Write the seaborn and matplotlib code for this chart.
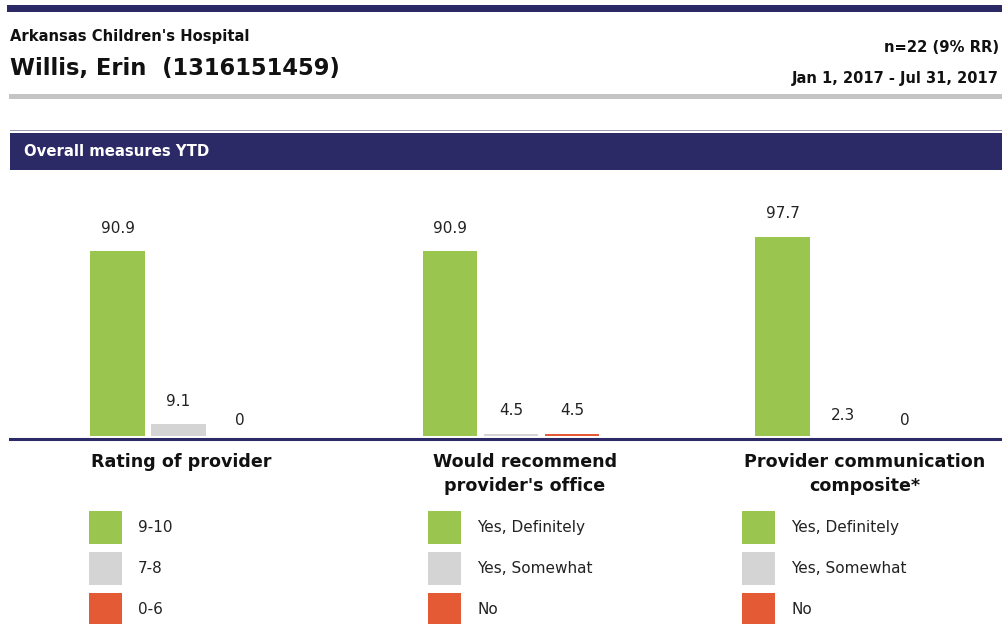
"""
Overall measures YTD - provider survey summary (grouped bars with per-measure legends).
"""

import pandas as pd
import matplotlib.pyplot as plt
import seaborn as sns
from matplotlib.patches import Rectangle, Patch

# ---- data -----------------------------------------------------------------
measures = ["Rating of provider",
            "Would recommend\nprovider's office",
            "Provider communication\ncomposite*"]
levels = ["top", "middle", "bottom"]
top_box = [90.9, 90.9, 97.7]
middle_box = [9.1, 4.5, 2.3]
bottom_box = [0.0, 4.5, 0.0]
legend_labels = [["9-10", "7-8", "0-6"],
                 ["Yes, Definitely", "Yes, Somewhat", "No"],
                 ["Yes, Definitely", "Yes, Somewhat", "No"]]

hospital = "Arkansas Children's Hospital"
provider = "Willis, Erin  (1316151459)"
sample_note = "n=22 (9% RR)"
date_range = "Jan 1, 2017 - Jul 31, 2017"
section_title = "Overall measures YTD"

GREEN, GREY, RED = "#9ac54f", "#d4d4d4", "#e35a34"
NAVY = "#2b2a66"

W, H = 1002, 624


def fx(x):
    return x / W


def fy(y):
    return 1 - y / H


df = pd.DataFrame({
    "measure": measures * 3,
    "level": [lv for lv in levels for _ in measures],
    "pct": top_box + middle_box + bottom_box,
})

sns.set_style("white")
plt.rcParams["font.family"] = ["DejaVu Sans"]

fig = plt.figure(figsize=(W / 100, H / 100), dpi=100)

# ---- header ---------------------------------------------------------------
fig.add_artist(Rectangle((fx(7), fy(12)), fx(W) - fx(7), 7 / H,
                         transform=fig.transFigure, color=NAVY, lw=0))
fig.text(fx(10), fy(37), hospital, fontsize=10.6, fontweight="bold",
         va="center", ha="left", color="#111")
fig.text(fx(10), fy(68), provider, fontsize=16.3, fontweight="bold",
         va="center", ha="left", color="#111")
# right-hand notes: reference runs them to the edge, keep them fully visible
fig.text(fx(999), fy(48), sample_note, fontsize=10.6, fontweight="bold",
         va="center", ha="right", color="#111")
fig.text(fx(999), fy(78), date_range, fontsize=10.5, fontweight="bold",
         va="center", ha="right", color="#111")
fig.add_artist(Rectangle((fx(9), fy(99)), fx(W) - fx(9), 5 / H,
                         transform=fig.transFigure, color="#c4c4c4", lw=0))

# section banner
fig.add_artist(Rectangle((fx(10), fy(131)), fx(W) - fx(10), 1.5 / H,
                         transform=fig.transFigure, color="#9a9ab4", lw=0))
fig.add_artist(Rectangle((fx(10), fy(170)), fx(W) - fx(10), 37 / H,
                         transform=fig.transFigure, color=NAVY, lw=0))
fig.text(fx(24), fy(152), section_title, fontsize=10.7, fontweight="bold",
         va="center", ha="left", color="white")

# ---- bars -----------------------------------------------------------------
ax = fig.add_axes([fx(10), fy(436), fx(W) - fx(10), (436 - 180) / H])
sns.barplot(data=df, x="measure", y="pct", hue="level", order=measures,
            hue_order=levels, palette=[GREEN, GREY, RED], width=0.55,
            gap=0.1, saturation=1, linewidth=0, legend=False, ax=ax)

ax.set_xlim(-0.507, 2.477)
ax.set_ylim(3.43, 124.5)

for cont in ax.containers:
    vals = [b.get_height() for b in cont]
    ax.bar_label(cont, labels=[f"{v:g}" for v in vals], padding=11,
                 fontsize=11, color="#222", annotation_clip=False)

for side in ["left", "right", "top"]:
    ax.spines[side].set_visible(False)
ax.spines["bottom"].set_color(NAVY)
ax.spines["bottom"].set_linewidth(2.2)
ax.spines["bottom"].set_position(("outward", 2))
ax.set_yticks([])
ax.set_xticks([0.5, 1.5])
ax.set_xticklabels([])
ax.tick_params(axis="x", direction="in", length=2, width=1.2, color=NAVY)
ax.set_xlabel("")
ax.set_ylabel("")

# category titles under the axis
centers = [181, 525, 865]
for i, name in enumerate(measures):
    fig.text(fx(centers[i]), fy(453), name, fontsize=12.6, fontweight="bold",
             ha="center", va="top", color="#111", linespacing=1.4)

# per-measure legends
legend_x = [89, 428, 742]
for i, labels in enumerate(legend_labels):
    handles = [Patch(facecolor=c, edgecolor="none") for c in (GREEN, GREY, RED)]
    fig.legend(handles, labels, loc="upper left",
               bbox_to_anchor=(fx(legend_x[i]), fy(511)),
               bbox_transform=fig.transFigure, frameon=False,
               fontsize=11, handlelength=2.16, handleheight=2.95,
               handletextpad=1.05, labelspacing=0.52, borderpad=0,
               borderaxespad=0, labelcolor="#222")

fig.savefig("out.png", dpi=100)
